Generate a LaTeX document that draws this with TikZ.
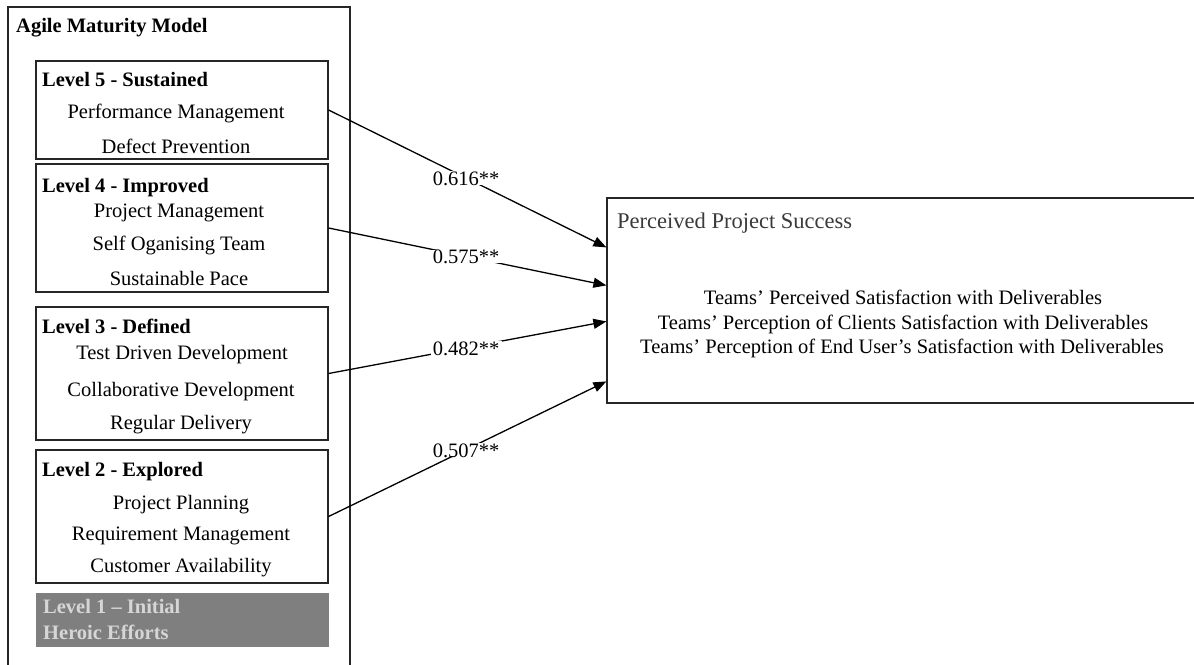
\documentclass[tikz,border=0pt]{standalone}
\usepackage{fontspec}
\setmainfont{Liberation Serif}
\usetikzlibrary{arrows.meta,calc}
\definecolor{lvlgray}{HTML}{7F7F7F}
\definecolor{lvltext}{HTML}{D6D6D6}
\definecolor{ttlgray}{HTML}{3A3A3A}
\newcommand{\coeftext}[1]{\raisebox{-5pt}{#1}}
\begin{document}
\begin{tikzpicture}[x=1pt,y=-1pt, font=\fontsize{20.5}{24.5}\selectfont,
  box/.style={draw=black!85, line width=1.2pt, inner sep=0, rectangle},
  txt/.style={inner sep=0, text height=0.7em, text depth=0.2em, yshift=-5pt},
  ttl/.style={txt, anchor=west, font=\fontsize{20.5}{24.5}\selectfont\bfseries},
  conn/.style={line width=1.3pt, -{Triangle[length=13pt,width=10pt]}},
  coef/.style={inner sep=2.3pt, text height=0.7em, text depth=0.2em, fill=white}]
\useasboundingbox (0,0) rectangle (1194,664);
\clip (0,0) rectangle (1194,664);
% outer box
\node[box, minimum width=342pt, minimum height=680pt] (AMM) at (179,347) {};
\node[ttl] (AMMt) at (16,25) {Agile Maturity Model};
% level boxes
\node[box, minimum width=292pt, minimum height=98pt] (L5) at (182,110) {};
\node[box, minimum width=292pt, minimum height=128pt] (L4) at (182,228) {};
\node[box, minimum width=292pt, minimum height=133pt] (L3) at (182,373.5) {};
\node[box, minimum width=292pt, minimum height=133pt] (L2) at (182,516.5) {};
\node[rectangle, fill=lvlgray, inner sep=0, minimum width=293pt, minimum height=54pt] (L1) at (182.5,620) {};
% level 5
\node[ttl] (L5t) at (42,79) {Level 5 - Sustained};
\node[txt] (L5a) at (176,111) {Performance Management};
\node[txt] (L5b) at (176,146) {Defect Prevention};
% level 4
\node[ttl] (L4t) at (42,185) {Level 4 - Improved};
\node[txt] (L4a) at (179,210) {Project Management};
\node[txt] (L4b) at (179,243) {Self Oganising Team};
\node[txt] (L4c) at (179,278) {Sustainable Pace};
% level 3
\node[ttl] (L3t) at (42,326) {Level 3 - Defined};
\node[txt] (L3a) at (182,352) {Test Driven Development};
\node[txt] (L3b) at (181,389) {Collaborative Development};
\node[txt] (L3c) at (181,422) {Regular Delivery};
% level 2
\node[ttl] (L2t) at (42,469) {Level 2 - Explored};
\node[txt] (L2a) at (181,502) {Project Planning};
\node[txt] (L2b) at (181,533) {Requirement Management};
\node[txt] (L2c) at (181,565) {Customer Availability};
% level 1
\node[ttl, text=lvltext] (L1a) at (43,606) {Level 1 – Initial};
\node[ttl, text=lvltext] (L1b) at (43,632) {Heroic Efforts};
% perceived project success
\node[box, minimum width=603pt, minimum height=205pt] (PPS) at (908.5,300.5) {};
\node[txt, anchor=west, text=ttlgray, font=\fontsize{22.5}{27}\selectfont] (PPSt) at (617,221) {Perceived Project Success};
\node[txt] (PPSa) at (903,297) {Teams’ Perceived Satisfaction with Deliverables};
\node[txt] (PPSb) at (903,322) {Teams’ Perception of Clients Satisfaction with Deliverables};
\node[txt] (PPSc) at (902,346) {Teams’ Perception of End User’s Satisfaction with Deliverables};
% connectors
\coordinate (e5) at ($(PPS.north west)+(0,50)$);
\coordinate (e4) at ($(PPS.north west)+(0,88)$);
\coordinate (e3) at ($(PPS.north west)+(0,124)$);
\coordinate (e2) at ($(PPS.north west)+(0,184)$);
\draw[conn] (L5.east) -- node[coef, pos=0.495] (c5) {\coeftext{0.616**}} (e5);
\draw[conn] (L4.east) -- node[coef, pos=0.495] (c4) {\coeftext{0.575**}} (e4);
\draw[conn] (L3.east) -- node[coef, pos=0.495] (c3) {\coeftext{0.482**}} (e3);
\draw[conn] (L2.east) -- node[coef, pos=0.495] (c2) {\coeftext{0.507**}} (e2);
\end{tikzpicture}
\end{document}
